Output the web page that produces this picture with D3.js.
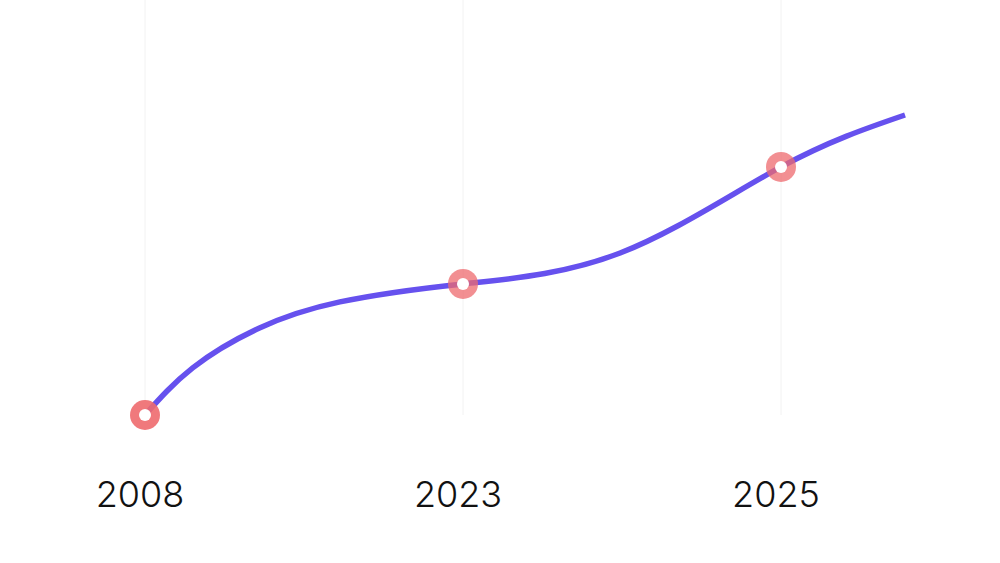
<!DOCTYPE html>
<html><head><meta charset="utf-8">
<script src="https://cdn.jsdelivr.net/npm/d3@7"></script>
<style>html,body{margin:0;padding:0;background:#fff;}svg{display:block;}</style>
</head><body>
<svg id="chart" width="1000" height="563"></svg>
<script>
// Labeled categories and their values
const categories = ["2008", "2023", "2025"];
const values = [0, 43.7, 82.7];
// Full curve points (position in category index units, value)
const curvePos = [0, 0.15, 0.36, 0.613, 1, 1.494, 2, 2.39];
const curveVals = [0, 15.7, 29, 37.7, 43.7, 54, 82.7, 100];

const svg = d3.select("#chart");
const x = d3.scaleLinear().domain([0, 2]).range([145, 781]);
const y = d3.scaleLinear().domain([0, 100]).range([415, 115]);

// faint gridlines
svg.selectAll("line.grid").data(categories).enter().append("line")
  .attr("x1", (d,i)=>x(i)).attr("x2", (d,i)=>x(i))
  .attr("y1", 0).attr("y2", y(0))
  .attr("stroke", "#f2f2f2").attr("stroke-width", 1);

const pts = curvePos.map((p,i)=>[p, curveVals[i]]);
const line = d3.line().x(d=>x(d[0])).y(d=>y(d[1])).curve(d3.curveNatural);
svg.append("path").attr("d", line(pts))
  .attr("fill","none").attr("stroke","#6651ee").attr("stroke-width",5.5);

const g = svg.selectAll("g.m").data(categories).enter().append("g");
g.append("circle").attr("cx",(d,i)=>x(i)).attr("cy",(d,i)=>y(values[i]))
  .attr("r",15).attr("fill","#ee6a6e").attr("opacity",(d,i)=>i===0?0.9:0.75);
g.append("circle").attr("cx",(d,i)=>x(i)).attr("cy",(d,i)=>y(values[i]))
  .attr("r",6).attr("fill","#fff");

svg.selectAll("text.lab").data(categories).enter().append("text")
  .attr("x",(d,i)=>x(i)-5).attr("y",507)
  .attr("text-anchor","middle")
  .style("font-family","Inter, 'Open Sans', sans-serif")
  .style("font-size","36px").style("font-weight",300)
  .attr("fill","#111").text(d=>d);
</script>
</body></html>
